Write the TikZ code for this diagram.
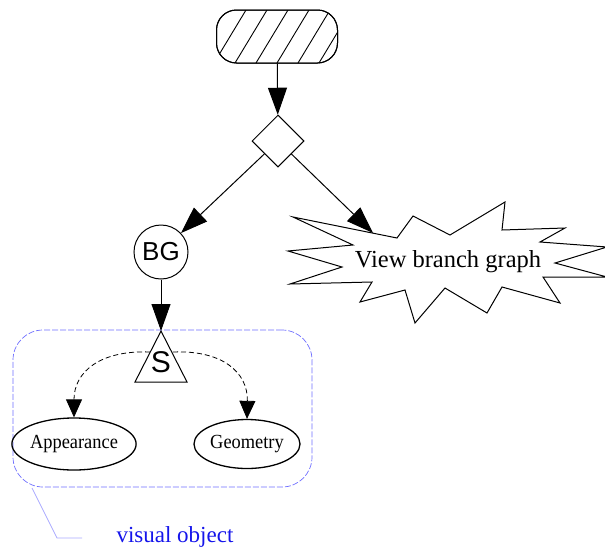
\documentclass[tikz,border=0pt]{standalone}
\usepackage{fontspec}
\setmainfont{Liberation Serif}
\newfontfamily\sansf{Liberation Sans}
\usetikzlibrary{arrows.meta,shapes.geometric}
\definecolor{frameblue}{RGB}{110,110,255}
\definecolor{leaderblue}{RGB}{170,170,255}
\definecolor{labelblue}{RGB}{20,20,235}
\tikzset{
  bigarrow/.style={-{Triangle[length=27pt,width=19pt]}},
  smallarrow/.style={-{Triangle[length=18pt,width=16pt]}},
  leaf/.style={ellipse,draw,line width=1.3pt,inner sep=0pt,font=\fontsize{20}{22}\selectfont},
  vobox/.style={draw=frameblue,line width=0.7pt,dash pattern=on 6pt off 2pt,
    rounded corners=30pt,inner sep=0pt},
  terminal/.style={draw,rounded corners=20pt,minimum width=121pt,minimum height=53pt,inner sep=0pt},
}
\begin{document}
\begin{tikzpicture}[x=1pt,y=-1pt,line width=1pt]
\useasboundingbox (0,0) rectangle (605,552);

% hatched start terminal
\node[terminal] (top) at (277,36.5) {};
\begin{scope}[rounded corners=20pt]
  \clip (216.5,10) rectangle (337.5,63);
  \foreach \xx in {172,193,...,340} \draw[line width=0.9pt,sharp corners] (\xx,63) -- ++(32,-53);
\end{scope}
\node[terminal] at (277,36.5) {};

% decision diamond
\node[diamond,draw,minimum width=52pt,minimum height=52pt,inner sep=0pt] (dia) at (278,141) {};

% branch group node
\node[circle,draw,minimum size=54pt,inner sep=0pt,font=\sansf\fontsize{26}{30}\selectfont] (bg) at (161,252) {BG};

% view branch graph burst
\draw[fill=white] (293,217) -- (397,238) -- (413,216) -- (450,235) -- (505,202) -- (502,230)
  -- (565,228) -- (540,242) -- (607,247) -- (555,263) -- (607,277) -- (543,277)
  -- (560,303) -- (502,287) -- (487,313) -- (445,288) -- (415,323) -- (405,290)
  -- (360,302) -- (372,282) -- (290,284) -- (342,267) -- (288,251) -- (353,245) -- cycle;
\node[font=\fontsize{24.5}{28}\selectfont] (vbg) at (448,262) {View branch graph};
\coordinate (burstin) at (373,233);

% shape node
\coordinate (sapex) at (161,331);
\draw (sapex) -- (135,382) -- (187,382) -- cycle;
\node[font=\sansf\fontsize{30}{32}\selectfont,inner sep=0pt] (s) at (161,362) {S};
\coordinate (sl) at (150,352);
\coordinate (sr) at (173,352);

% visual object frame
\node[vobox,minimum width=299pt,minimum height=157pt] (vo) at (162.5,408.5) {};

% leaves
\node[leaf,minimum width=105pt,minimum height=52pt] (app) at (74,444) {\scalebox{0.92}[1]{Appearance}};
\node[leaf,minimum width=106pt,minimum height=49pt] (geo) at (247,444) {\scalebox{0.92}[1]{Geometry}};

% connectors
\draw[bigarrow] (top) -- (dia);
\draw[bigarrow] (dia) -- (bg);
\draw[bigarrow] (dia) -- (burstin);
\draw[bigarrow] (bg) -- (sapex);
\draw[smallarrow,line width=0.8pt,dash pattern=on 5pt off 3pt] (sl) .. controls (100,350) and (74,372) .. (app.north);
\draw[smallarrow,line width=0.8pt,dash pattern=on 5pt off 3pt] (sr) .. controls (222,350) and (248,372) .. (geo.north);

% leader and label
\coordinate (lead) at (32,488);
\node[text=labelblue,font=\fontsize{23}{26}\selectfont,anchor=west,inner sep=0pt] (vol) at (116,537) {visual object};
\draw[leaderblue,line width=0.8pt] (lead) -- (57,538) -- (82,538);
\end{tikzpicture}
\end{document}
